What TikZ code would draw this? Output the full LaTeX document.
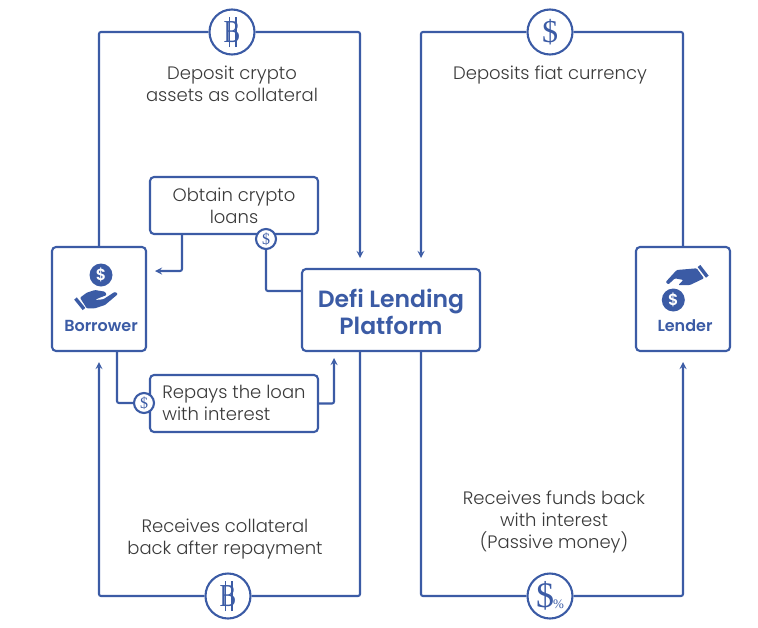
\documentclass[tikz,border=0pt]{standalone}
\usepackage{fontspec}
\setmainfont{Poppins Light}[BoldFont={Poppins SemiBold}]
\newfontfamily\serifsign{Liberation Serif}
\definecolor{plateblue}{HTML}{3B5BA5}
\definecolor{captiongray}{HTML}{3A3A3A}
\newcommand{\btcsign}{\scalebox{0.78}[1]{\rlap{\hspace{0.2em}\rule[-0.14em]{0.06em}{0.94em}\hspace{0.2em}\rule[-0.14em]{0.06em}{0.94em}}B}}
\begin{document}
\begin{tikzpicture}[x=1pt,y=-1pt]
    \tikzstyle{every node}=[font=\fontsize{18}{22}\selectfont,text=captiongray]
    \tikzstyle{link}=[plateblue,line width=2.1pt,rounded corners=2pt]
    \tikzstyle{arrowlink}=[link,-stealth]
    \tikzstyle{platebox}=[draw=plateblue,line width=2.1pt,rounded corners=4pt,fill=white,inner sep=0pt,align=center]
    \tikzstyle{bigcoin}=[circle,draw=plateblue,line width=2.1pt,fill=white,minimum size=45pt,inner sep=0pt,text=plateblue,font=\serifsign\fontsize{32}{32}\selectfont]
    \tikzstyle{smallcoin}=[circle,draw=plateblue,line width=2.1pt,fill=white,minimum size=20pt,inner sep=0pt,text=plateblue,font=\serifsign\fontsize{16}{16}\selectfont]
    \tikzstyle{iconcoin}=[circle,fill=plateblue,minimum size=23pt,inner sep=0pt,text=white,font=\bfseries\fontsize{16}{16}\selectfont]
    \tikzstyle{iconlabel}=[text=plateblue,font=\bfseries\fontsize{16}{16}\selectfont]
    \useasboundingbox (0,0) rectangle (758,627);
    \node[platebox,minimum width=94pt,minimum height=104pt] (borrower) at (99,299) {};
    \node[platebox,minimum width=94pt,minimum height=104pt] (lender) at (683,299) {};
    \node[platebox,minimum width=178pt,minimum height=82pt,text=plateblue,font=\bfseries\fontsize{23.5}{27}\selectfont] (platform) at (391,310) {\raisebox{0pt}[24pt][3pt]{Defi Lending}\\\raisebox{0pt}[24pt][3pt]{Platform}};
    \node[platebox,minimum width=168pt,minimum height=57pt] (obtain) at (234,205.5) {Obtain crypto\\loans};
    \node[platebox,minimum width=168pt,minimum height=57pt,align=left] (repays) at (234,403.5) {\raisebox{1.5pt}{Repays the loan}\\\raisebox{1.5pt}{with interest}\hspace{32pt}};
    \node[bigcoin] (btctop) at (232,32) {\btcsign};
    \node[bigcoin] (dollartop) at (550,32) {\$};
    \node[bigcoin] (btcbottom) at (228,596) {\btcsign};
    \node[bigcoin,font=\serifsign\fontsize{36}{36}\selectfont] (dollarbottom) at (550,596) {\$\hspace{-1pt}\raisebox{-1pt}{\fontsize{13}{13}\selectfont\%}};
    \node[smallcoin] (obtaincoin) at (266,239) {\$};
    \node[smallcoin] (repayscoin) at (144,403) {\$};
    \coordinate (collateralin) at (360,258);
    \coordinate (fiatin) at (421,258);
    \coordinate (collateralout) at (360,351);
    \coordinate (fundsout) at (421,351);
    \coordinate (borrowerin) at (99,362);
    \coordinate (lenderin) at (683,362);
    \coordinate (loanend) at (155,271);
    \coordinate (loanstart) at (182,234);
    \coordinate (repaystart) at (117,351);
    \coordinate (repaysend) at (334,358);
    \draw[link] (borrower.north) |- (btctop);
    \draw[arrowlink] (btctop) -| (collateralin);
    \draw[arrowlink] (dollartop) -| (fiatin);
    \draw[link] (dollartop) -| (lender.north);
    \draw[link] (collateralout) |- (btcbottom);
    \draw[arrowlink] (btcbottom) -| (borrowerin);
    \draw[link] (fundsout) |- (dollarbottom);
    \draw[arrowlink] (dollarbottom) -| (lenderin);
    \draw[arrowlink] (loanstart) |- (loanend);
    \draw[link] (obtaincoin) |- (platform.west |- 0,291);
    \draw[link] (repaystart) |- (repayscoin);
    \draw[arrowlink] (repays) ++(84,0) -| (repaysend);
    \node[iconcoin] (borrowercoin) at (101,275) {\$};
    \node[iconlabel] (borrowerlabel) at (101,326) {Borrower};
    \fill[plateblue,rounded corners=1pt] (80,297.7) -- (86.7,292.7) -- (95,290) -- (105,291.7) -- (106.7,295) -- (98.3,298.3) -- (95,300) -- (103.3,299.3) -- (115,291.7) -- (118,294) -- (105,305) -- (95,308.3) -- (86.7,308.3) -- cycle;
    \draw[plateblue,line width=3.4pt] (75.5,298.5) -- (84,309);
    \node[iconcoin] (lendercoin) at (673.3,300) {\$};
    \node[iconlabel] (lenderlabel) at (685,326) {Lender};
    \fill[plateblue,rounded corners=1pt] (665.7,282) -- (676.7,270) -- (696.7,268.3) -- (704,278.3) -- (690,285) -- (678.3,285) -- (683.3,280) -- (675,278.3) -- (668.3,284.5) -- cycle;
    \draw[plateblue,line width=3.4pt] (699,266) -- (707.3,276.7);
    \node[align=center] (depositcrypto) at (232,84) {Deposit crypto\\assets as collateral};
    \node[align=center] (depositfiat) at (550,75) {Deposits fiat currency};
    \node[align=center] (receivecollateral) at (225,539) {Receives collateral\\back after repayment};
    \node[align=center] (receivefunds) at (554,522) {Receives funds back\\with interest\\(Passive money)};
  \end{tikzpicture}
\end{document}
